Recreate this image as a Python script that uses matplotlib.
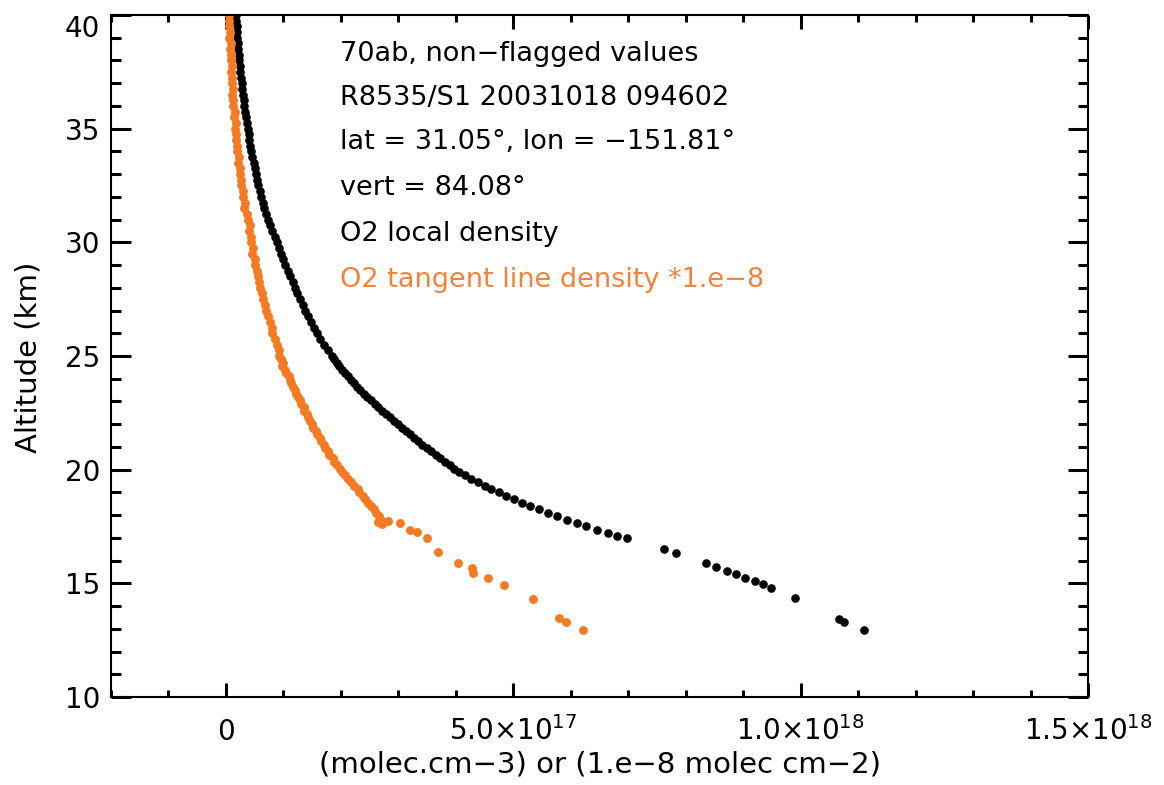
import numpy as np
import matplotlib.pyplot as plt

# O2 local density (molec cm-3), units of 1e17
alt_local = [40.00, 39.75, 39.50, 39.25, 39.00, 38.75, 38.50, 38.25, 38.00, 37.75,
             37.50, 37.25, 37.00, 36.75, 36.50, 36.25, 36.00, 35.75, 35.50, 35.25,
             35.00, 34.75, 34.50, 34.25, 34.00, 33.75, 33.50, 33.25, 33.00, 32.75,
             32.50, 32.25, 32.00, 31.75, 31.50, 31.25, 31.00, 30.75, 30.50, 30.25,
             30.00, 29.75, 29.50, 29.25, 29.00, 28.75, 28.50, 28.25, 28.00, 27.75,
             27.50, 27.25, 27.00, 26.75, 26.50, 26.25, 26.00, 25.75, 25.50, 25.25,
             25.00, 24.85, 24.70, 24.55, 24.40, 24.25, 24.10, 23.95, 23.80, 23.65,
             23.50, 23.35, 23.20, 23.05, 22.90, 22.75, 22.60, 22.45, 22.30, 22.15,
             22.00, 21.85, 21.70, 21.55, 21.40, 21.25, 21.10, 20.95, 20.80, 20.65,
             20.50, 20.35, 20.20, 20.05, 19.90, 19.75, 19.60, 19.45, 19.30, 19.15,
             19.00, 18.85, 18.70, 18.55, 18.40, 18.25, 18.10, 17.95, 17.80, 17.65,
             17.50, 17.35, 17.20, 17.08, 16.98,
             16.51, 16.33, 15.89, 15.72, 15.54, 15.41, 15.23, 15.10, 14.97, 14.79,
             14.36, 13.43, 13.30, 12.95]
dens_local = [0.170, 0.177, 0.184, 0.192, 0.199, 0.208, 0.216, 0.225, 0.234, 0.244,
              0.253, 0.264, 0.275, 0.286, 0.297, 0.309, 0.322, 0.335, 0.349, 0.363,
              0.378, 0.393, 0.409, 0.426, 0.443, 0.461, 0.480, 0.500, 0.520, 0.541,
              0.563, 0.586, 0.610, 0.640, 0.670, 0.705, 0.740, 0.775, 0.810, 0.845,
              0.880, 0.920, 0.955, 0.995, 1.035, 1.075, 1.115, 1.160, 1.200, 1.245,
              1.290, 1.335, 1.380, 1.425, 1.475, 1.530, 1.585, 1.645, 1.710, 1.775,
              1.840, 1.880, 1.925, 1.970, 2.020, 2.070, 2.120, 2.175, 2.230, 2.285,
              2.340, 2.400, 2.460, 2.520, 2.585, 2.650, 2.715, 2.785, 2.855, 2.925,
              3.000, 3.070, 3.140, 3.210, 3.280, 3.350, 3.420, 3.495, 3.570, 3.650,
              3.730, 3.810, 3.890, 3.975, 4.060, 4.160, 4.270, 4.385, 4.500, 4.620,
              4.750, 4.880, 5.010, 5.150, 5.290, 5.440, 5.600, 5.760, 5.930, 6.100,
              6.270, 6.450, 6.650, 6.800, 6.970,
              7.62, 7.83, 8.36, 8.53, 8.72, 8.88, 9.04, 9.20, 9.34, 9.48,
              9.90, 10.66, 10.75, 11.10]

# O2 tangent line density *1.e-8, units of 1e17
alt_tang = [40.00, 39.75, 39.50, 39.25, 39.00, 38.75, 38.50, 38.25, 38.00, 37.75,
            37.50, 37.25, 37.00, 36.75, 36.50, 36.25, 36.00, 35.75, 35.50, 35.25,
            35.00, 34.75, 34.50, 34.25, 34.00, 33.75, 33.50, 33.25, 33.00, 32.75,
            32.50, 32.25, 32.00, 31.75, 31.50, 31.25, 31.00, 30.75, 30.50, 30.25,
            30.00, 29.75, 29.50, 29.25, 29.00, 28.75, 28.50, 28.25, 28.00, 27.75,
            27.50, 27.25, 27.00, 26.75, 26.50, 26.25, 26.00, 25.75, 25.50, 25.25,
            25.00, 24.85, 24.70, 24.55, 24.40, 24.25, 24.10, 23.95, 23.80, 23.65,
            23.50, 23.35, 23.20, 23.05, 22.90, 22.75, 22.60, 22.45, 22.30, 22.15,
            22.00, 21.85, 21.70, 21.55, 21.40, 21.25, 21.10, 20.95, 20.80, 20.65,
            20.50, 20.35, 20.20, 20.05, 19.90, 19.75, 19.60, 19.45, 19.30, 19.15,
            19.00, 18.85, 18.70, 18.55, 18.40, 18.25, 18.10, 17.95, 17.80, 17.75,
            17.70, 17.60,
            17.65, 17.35, 17.26, 16.99, 16.38, 15.89, 15.67, 15.45, 15.23, 14.93,
            14.31, 13.48, 13.30, 12.95]
dens_tang = [0.05, 0.06, 0.05, 0.07, 0.06, 0.08, 0.07, 0.09, 0.08, 0.10,
             0.09, 0.11, 0.10, 0.12, 0.11, 0.12, 0.13, 0.15, 0.14, 0.17,
             0.16, 0.18, 0.17, 0.20, 0.19, 0.22, 0.21, 0.25, 0.24, 0.27,
             0.26, 0.30, 0.29, 0.33, 0.32, 0.36, 0.38, 0.41, 0.40, 0.43,
             0.44, 0.47, 0.46, 0.50, 0.51, 0.54, 0.55, 0.57, 0.60, 0.62,
             0.64, 0.68, 0.70, 0.74, 0.76, 0.80, 0.81, 0.86, 0.88, 0.92,
             0.93, 0.96, 0.99, 0.98, 1.03, 1.05, 1.09, 1.12, 1.14, 1.16,
             1.21, 1.22, 1.26, 1.29, 1.31, 1.35, 1.36, 1.41, 1.43, 1.46,
             1.50, 1.52, 1.57, 1.58, 1.63, 1.65, 1.70, 1.73, 1.78, 1.80,
             1.86, 1.88, 1.93, 1.98, 2.02, 2.08, 2.12, 2.18, 2.22, 2.29,
             2.31, 2.38, 2.42, 2.47, 2.52, 2.58, 2.61, 2.66, 2.70, 2.82,
             2.65, 2.72,
             3.02, 3.20, 3.32, 3.50, 3.69, 4.04, 4.28, 4.30, 4.56, 4.83,
             5.35, 5.79, 5.91, 6.21]

info = ['70ab, non\u2212flagged values',
        'R8535/S1 20031018 094602',
        'lat = 31.05\u00b0, lon = \u2212151.81\u00b0',
        'vert = 84.08\u00b0',
        'O2 local density',
        'O2 tangent line density *1.e\u22128']
info_base = [61, 105, 149, 195, 241, 287]   # baselines, pixels from top
orange = '#f47a24'
orange_txt = '#f0843c'

W, H = 1164, 785
fig = plt.figure(figsize=(W/100, H/100), dpi=100)
ax = fig.add_axes([111/W, 1-697/H, (1088-111)/W, (697-15)/H])

ax.plot(np.array(dens_local)*1e17, alt_local, 'o', color='black', ms=6.2, mew=0)
ax.plot(np.array(dens_tang)*1e17, alt_tang, 'o', color=orange, ms=6.4, mew=0)

ax.set_xlim(-2e17, 1.5e18)
ax.set_ylim(10, 40)
ax.set_xticks([0, 5e17, 1e18, 1.5e18])
ax.set_xticklabels(['0', '5.0\u00d710$^{17}$', '1.0\u00d710$^{18}$', '1.5\u00d710$^{18}$'])
ax.set_xticks(np.arange(-2, 16)*1e17, minor=True)
ax.set_yticks(range(10, 41, 5))
ax.set_yticks(range(10, 41), minor=True)

ax.tick_params(which='both', direction='in', top=True, right=True, width=2.2,
               labelsize=20, colors='black')
ax.tick_params(axis='y', which='major', length=14.4, pad=8)
ax.tick_params(axis='y', which='minor', length=7.2)
ax.tick_params(axis='x', which='major', length=10, pad=31)
ax.tick_params(axis='x', which='minor', length=5)
for lab in ax.get_xticklabels():
    lab.set_va('baseline')
ax.get_yticklabels()[-1].set_va('top')
for s in ax.spines.values():
    s.set_linewidth(1.5)

fig.text(29/W, 1-357/H, 'Altitude (km)', rotation=90, ha='center', va='center', fontsize=21)
fig.text(600/W, 1-765/H, '(molec.cm\u22123) or (1.e\u22128 molec cm\u22122)',
         ha='center', va='center', fontsize=21)

for i, t in enumerate(info):
    c = orange_txt if i == len(info)-1 else 'black'
    fig.text(340/W, 1-info_base[i]/H, t, fontsize=19.5, va='baseline', color=c)

fig.savefig('out.png', dpi=100)
